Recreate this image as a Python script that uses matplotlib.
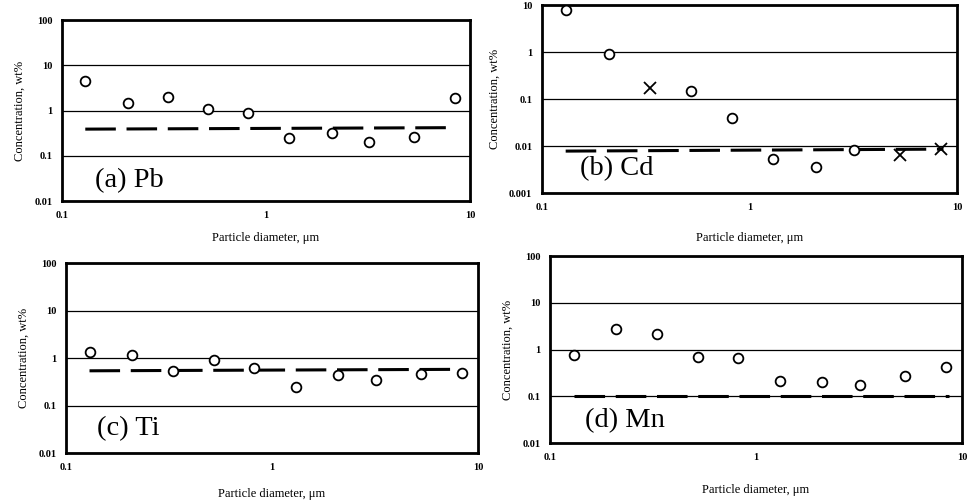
import matplotlib
matplotlib.use('Agg')
import matplotlib.pyplot as plt
from matplotlib.ticker import FixedLocator, FixedFormatter

plt.rcParams['font.family'] = ['Liberation Serif', 'DejaVu Serif']

# particle diameter of impactor stages, um
d_stage = [0.13, 0.21, 0.33, 0.52, 0.82, 1.3, 2.1, 3.2, 5.3, 8.4]

# (a) Pb
pb_conc = [4.5, 1.45, 2.05, 1.1, 0.9, 0.25, 0.32, 0.2, 0.26, 1.9]
pb_line_x = [0.13, 8.2]
pb_line_y = [0.39, 0.42]

# (b) Cd, circles = measured, crosses = other stages
cd_x = [0.13, 0.21, 0.52, 0.82, 1.3, 2.1, 3.2]
cd_conc = [8.0, 0.9, 0.15, 0.039, 0.0054, 0.0036, 0.0083]
cd_x_cross = [0.33, 5.3, 8.4]
cd_conc_cross = [0.17, 0.0063, 0.0086]
cd_line_x = [0.13, 8.6]
cd_line_y = [0.0078, 0.0086]

# (c) Ti
ti_conc = [1.35, 1.16, 0.54, 0.9, 0.63, 0.245, 0.45, 0.35, 0.46, 0.49]
ti_line_x = [0.13, 8.2]
ti_line_y = [0.54, 0.58]

# (d) Mn
mn_conc = [0.75, 2.7, 2.15, 0.68, 0.67, 0.21, 0.2, 0.17, 0.27, 0.43]
mn_line_x = [0.13, 8.6]
mn_line_y = [0.1, 0.1]

x_ticks = [0.1, 1, 10]
x_ticklabels = ['0.1', '1', '10']
y_ticks_4 = [0.01, 0.1, 1, 10, 100]
y_labels_4 = ['0.01', '0.1', '1', '10', '100']
y_ticks_b = [0.001, 0.01, 0.1, 1, 10]
y_labels_b = ['0.001', '0.01', '0.1', '1', '10']

fig = plt.figure(figsize=(9.77, 5.04), dpi=100)

panels = [
    # position, y ticks, labels, name, name position, xlabel pad
    ([0.0635, 0.601, 0.4176, 0.359], y_ticks_4, y_labels_4, '(a) Pb', (0.08, 0.077), 9),
    ([0.5548, 0.617, 0.4248, 0.373], y_ticks_b, y_labels_b, '(b) Cd', (0.092, 0.096), 14.5),
    ([0.0676, 0.101, 0.4217, 0.377], y_ticks_4, y_labels_4, '(c) Ti', (0.075, 0.095), 12),
    ([0.563, 0.121, 0.4217, 0.371], y_ticks_4, y_labels_4, '(d) Mn', (0.085, 0.086), 16),
]

axes = []
for pos, yt, yl, name, npos, xpad in panels:
    ax = fig.add_axes(pos)
    ax.set_xscale('log')
    ax.set_yscale('log')
    ax.set_xlim(0.1, 10)
    ax.set_ylim(yt[0], yt[-1])
    ax.xaxis.set_major_locator(FixedLocator(x_ticks))
    ax.xaxis.set_major_formatter(FixedFormatter(x_ticklabels))
    ax.xaxis.set_minor_locator(FixedLocator([]))
    ax.yaxis.set_major_locator(FixedLocator(yt))
    ax.yaxis.set_major_formatter(FixedFormatter(yl))
    ax.yaxis.set_minor_locator(FixedLocator([]))
    ax.tick_params(length=0, labelsize=7.5, pad=7)
    for t in ax.get_xticklabels() + ax.get_yticklabels():
        t.set_fontweight('bold')
    ax.grid(axis='y', color='black', lw=0.9)
    for s in ax.spines.values():
        s.set_linewidth(2)
    ax.set_xlabel('Particle diameter, \u03bcm', fontsize=9, labelpad=xpad)
    ax.set_ylabel('Concentration, wt%', fontsize=9, labelpad=6)
    ax.text(npos[0], npos[1], name, transform=ax.transAxes, fontsize=20.5,
            ha='left', va='baseline')
    axes.append(ax)

mk = dict(marker='o', ms=7, mfc='white', mec='black', mew=1.3, ls='none', zorder=5)
dash = dict(color='black', lw=2.2, ls=(0, (10, 3.5)), zorder=4)

axes[0].plot(pb_line_x, pb_line_y, **dash)
axes[0].plot(d_stage, pb_conc, **mk)

axes[1].plot(cd_line_x, cd_line_y, **dash)
axes[1].plot(cd_x, cd_conc, **mk)
axes[1].plot(cd_x_cross, cd_conc_cross, marker='x', ms=8, mew=1.3, color='black', ls='none', zorder=5)

axes[2].plot(ti_line_x, ti_line_y, **dash)
axes[2].plot(d_stage, ti_conc, **mk)

axes[3].plot(mn_line_x, mn_line_y, **dash)
axes[3].plot(d_stage, mn_conc, **mk)

fig.savefig('out.png', dpi=100)
